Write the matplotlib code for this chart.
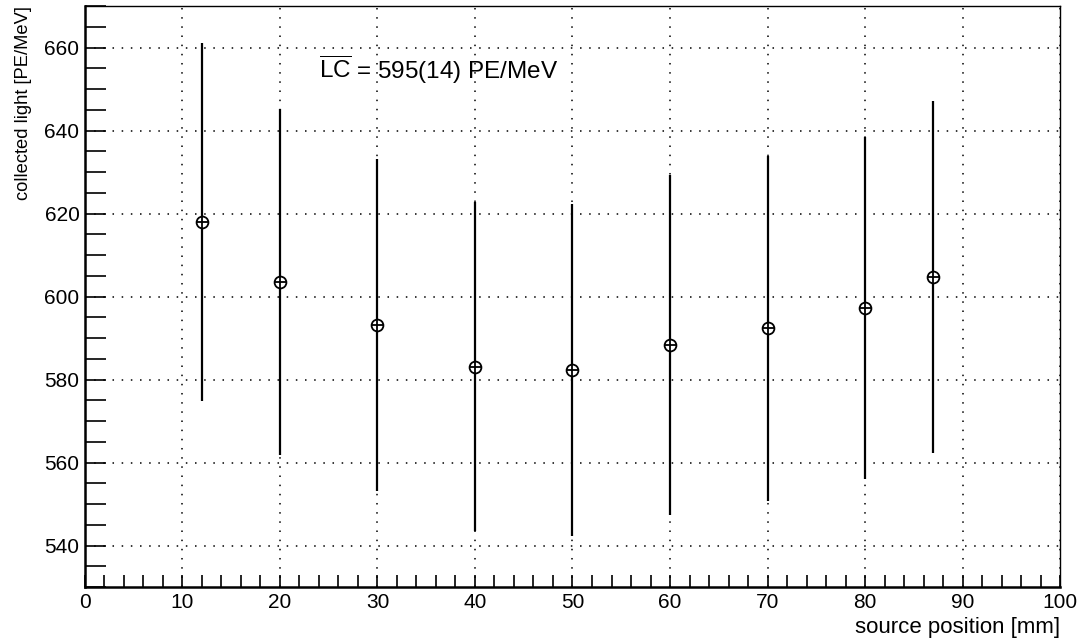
"""Collected light vs. source position (ROOT-style scan plot)."""

import numpy as np
import matplotlib
matplotlib.use("Agg")
import matplotlib.pyplot as plt
from matplotlib.ticker import MultipleLocator

plt.rcParams["font.family"] = ["Liberation Sans", "DejaVu Sans"]
plt.rcParams["mathtext.fontset"] = "custom"
plt.rcParams["mathtext.rm"] = "Liberation Sans"

# ---------------------------------------------------------------------------
# Data
# ---------------------------------------------------------------------------
position_mm = [12, 20, 30, 40, 50, 60, 70, 80, 87]
light_pe = [618.0, 603.5, 593.2, 583.1, 582.3, 588.4, 592.3, 597.3, 604.8]
light_err = [43.2, 41.8, 40.0, 39.7, 40.1, 41.0, 41.5, 41.2, 42.4]

mean_label = r"$\overline{\mathrm{LC}}$ = 595(14) PE/MeV"

# ---------------------------------------------------------------------------
# Plot
# ---------------------------------------------------------------------------
fig = plt.figure(figsize=(10.81, 6.41), dpi=100)
ax = fig.add_axes([0.0786, 0.0842, 0.902, 0.9064])

ax.errorbar(position_mm, light_pe, yerr=light_err, fmt="none",
            ecolor="black", elinewidth=1.6, capsize=0, zorder=3)
ax.plot(position_mm, light_pe, linestyle="none", marker="o", markersize=8.5,
        markerfacecolor="white", markeredgecolor="black", markeredgewidth=1.3,
        zorder=4)
ax.plot(position_mm, light_pe, linestyle="none", marker="+", markersize=8.5,
        markeredgecolor="black", markeredgewidth=1.3, zorder=5)

ax.text(24.0, 654.6, mean_label, fontsize=17.5, va="center", ha="left")

ax.set_xlim(0, 100)
ax.set_ylim(530, 670)
ax.xaxis.set_major_locator(MultipleLocator(10))
ax.xaxis.set_minor_locator(MultipleLocator(2))
ax.yaxis.set_major_locator(MultipleLocator(20))
ax.yaxis.set_minor_locator(MultipleLocator(5))

ax.grid(True, which="major", color="black", linestyle=(0, (1, 5)),
        linewidth=1.1)
ax.set_axisbelow(True)

ax.tick_params(axis="both", which="both", direction="in", top=False,
               right=False, labelsize=15, width=1.2)
ax.tick_params(axis="x", which="both", length=9, pad=4)
ax.tick_params(axis="y", which="both", length=15, pad=4)

for side in ("left", "bottom"):
    ax.spines[side].set_linewidth(1.8)
for side in ("top", "right"):
    ax.spines[side].set_linewidth(1.0)

ax.set_xlabel("source position [mm]", fontsize=16, loc="right", labelpad=4)
ax.set_ylabel("collected light [PE/MeV]", fontsize=13.2, loc="top", labelpad=9)

fig.savefig("out.png", dpi=100)
